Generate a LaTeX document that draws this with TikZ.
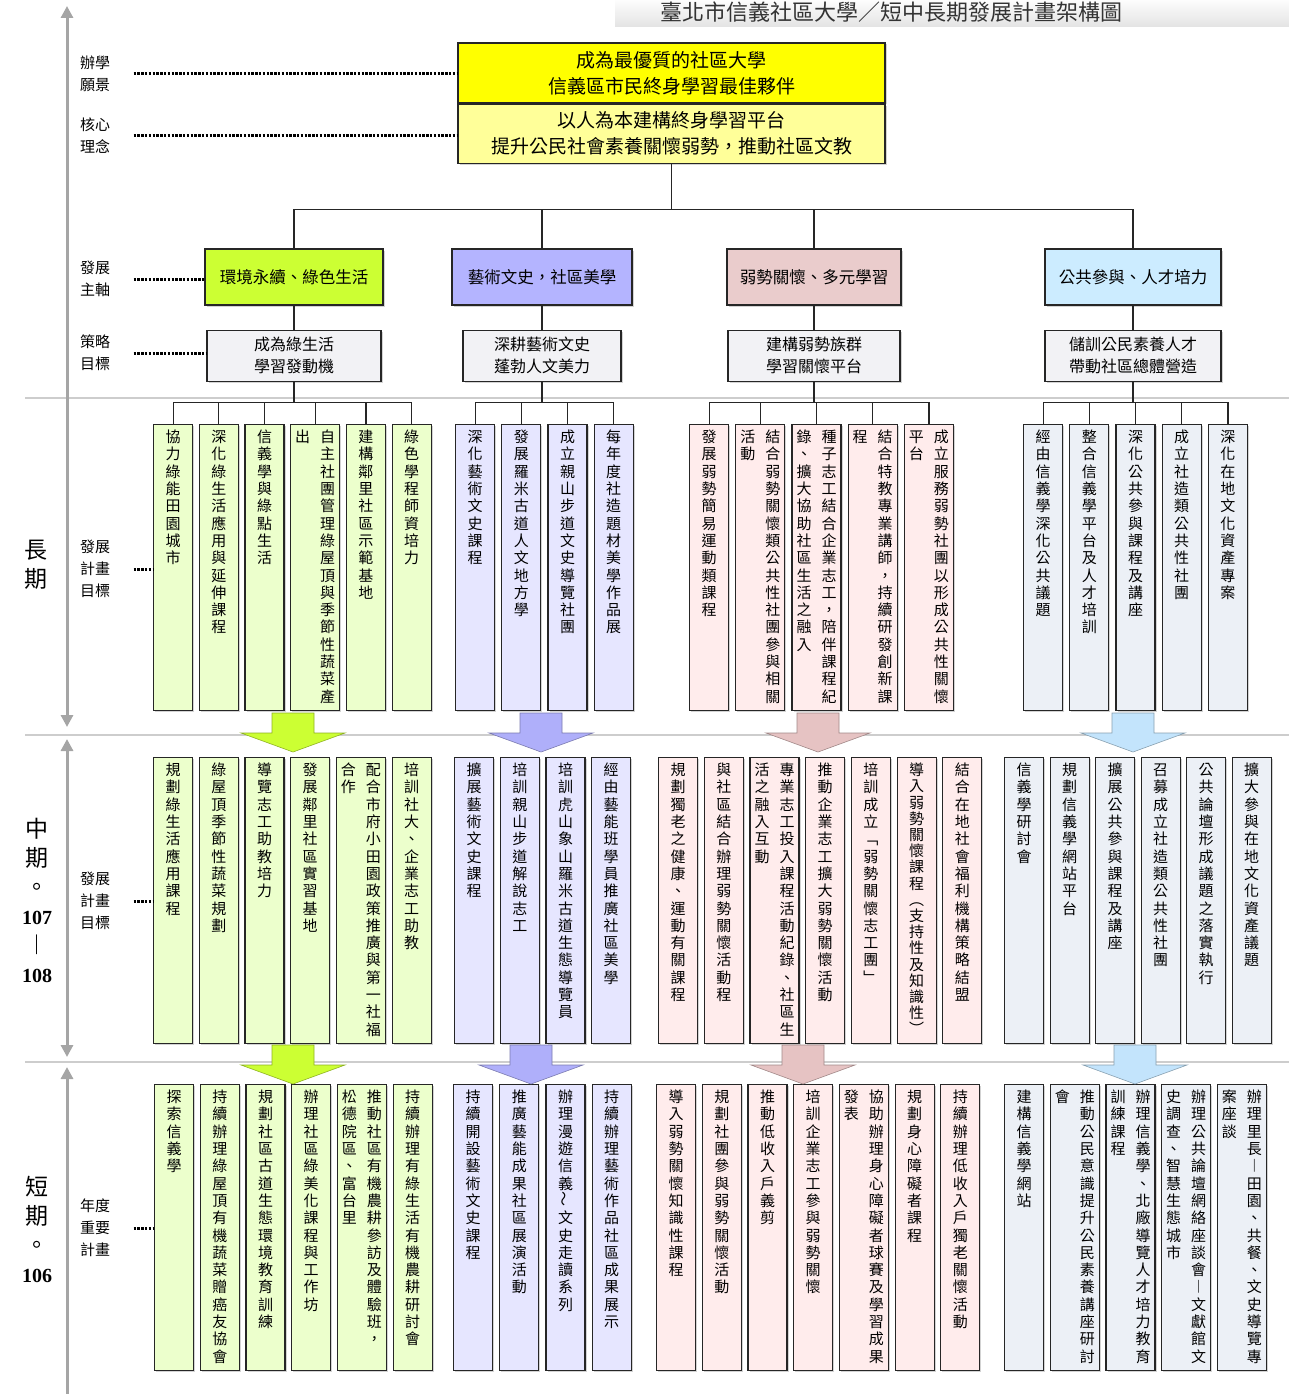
\documentclass[tikz,border=0pt]{standalone}
\usepackage{fontspec}
\usepackage{graphicx}
\setmainfont{Noto Sans CJK TC}
\newfontfamily\numfont{Liberation Serif}
\usetikzlibrary{arrows.meta, positioning, shadows}

\definecolor{axgreen}{RGB}{204,255,51}
\definecolor{axpurple}{RGB}{180,180,255}
\definecolor{axpink}{RGB}{234,204,204}
\definecolor{axblue}{RGB}{204,236,255}
\definecolor{colgreen}{RGB}{236,255,204}
\definecolor{colpurple}{RGB}{230,230,255}
\definecolor{colpink}{RGB}{255,236,236}
\definecolor{colblue}{RGB}{236,240,246}
\definecolor{stgray}{RGB}{242,242,245}
\definecolor{visyellow}{RGB}{255,255,0}
\definecolor{coreyellow}{RGB}{255,255,153}
\definecolor{axisgray}{RGB}{165,165,165}
\definecolor{sepgray}{RGB}{205,205,205}
\definecolor{arrpurple}{RGB}{175,175,250}
\definecolor{arrpink}{RGB}{230,195,195}
\definecolor{arrblue}{RGB}{195,228,252}

\newcommand\colfont{\fontsize{15}{17.3}\selectfont}
\newcommand\vtilde{\rotatebox{90}{～}}
% stack the characters of a text one below another
\def\vcharloop#1{\ifx\relax#1\else\hbox to 15pt{\hss\rule[-2pt]{0pt}{15pt}#1\hss}\expandafter\vcharloop\fi}
\newcommand\vchars[2][17.3pt]{\vtop{\baselineskip=#1\lineskiplimit=-50pt\lineskip=0pt\vcharloop#2\relax}}
\newcommand\vt[2][17.3pt]{\vbox to 276pt{\hbox{\vchars[#1]{#2}}\vfil}}
\newcommand\vtt[2]{\vbox to 276pt{\hbox{\vchars{#1}\hskip10pt\vchars{#2}}\vfil}}
\newcommand\blockarrow[4]{\path[fill=#3, draw=#4, line width=.6pt] (#1-21,#2) -- (#1+21,#2) -- (#1+21,#2+20) -- (#1+52,#2+20) -- (#1,#2+39) -- (#1-52,#2+20) -- (#1-21,#2+20) -- cycle;}

\tikzset{
  boxshadow/.style={drop shadow={shadow xshift=1.5pt, shadow yshift=-1.5pt, opacity=.35}},
  conn/.style={line width=1.2pt, draw=black!85},
  dotline/.style={line width=3pt, draw=black, dash pattern=on 2.4pt off 1.4pt},
  sepline/.style={line width=1.6pt, draw=sepgray},
  axisarrow/.style={line width=3pt, draw=axisgray, >={Triangle[width=12pt,length=12pt]}},
  topbox/.style={draw=black!85, line width=1.2pt, minimum width=427pt, minimum height=60pt, align=center, font=\fontsize{19}{26}\selectfont, boxshadow},
  axisbox/.style={draw=black!85, line width=1.2pt, minimum height=56pt, font=\fontsize{16.5}{20}\selectfont, boxshadow},
  stratbox/.style={draw=black!85, line width=1.2pt, fill=stgray, minimum height=51pt, align=center, font=\fontsize{16}{22}\selectfont, boxshadow},
  colbox/.style={draw=black!85, line width=1.2pt, inner xsep=0pt, inner ysep=5pt, minimum width=39pt, font=\colfont, boxshadow},
  gcol/.style={colbox, fill=colgreen},
  pcol/.style={colbox, fill=colpurple},
  rcol/.style={colbox, fill=colpink},
  bcol/.style={colbox, fill=colblue},
  wide/.style={minimum width=49pt},
  lab/.style={align=center, font=\fontsize{15}{22}\selectfont},
  biglab/.style={align=center, font=\fontsize{23}{29}\selectfont}
}

\begin{document}
\begin{tikzpicture}[x=1pt, y=-1pt]
\useasboundingbox (0,0) rectangle (1289,1394);

% title band
\shade[top color=white, bottom color=gray!22] (615,-2) rectangle (1289,27);
\node[font=\fontsize{22}{22}\selectfont, text=black!80] (title) at (891,12) {臺北市信義社區大學／短中長期發展計畫架構圖};

% separators and time axis
\draw[sepline] (25,398) -- (1289,398);
\draw[sepline] (25,735) -- (1289,735);
\draw[sepline] (25,1062) -- (1289,1062);
\draw[axisarrow, <->] (67,727) -- (67,6);
\draw[axisarrow, <->] (67,739) -- (67,1057);
\draw[axisarrow, <-] (67,1067) -- (67,1400);

% left labels
\node[biglab] (tlong) at (36,565) {長\\期};
\node[biglab] (tmid) at (37,900) {中\\期\\。\\{\numfont\bfseries\fontsize{20}{20}\selectfont 107}\\︱\\{\numfont\bfseries\fontsize{20}{20}\selectfont 108}};
\node[biglab] (tshort) at (37,1229) {短\\期\\。\\{\numfont\bfseries\fontsize{20}{20}\selectfont 106}};
\node[lab] (lbvis) at (95,74) {辦學\\願景};
\node[lab] (lbcore) at (95,136) {核心\\理念};
\node[lab] (lbaxis) at (95,279) {發展\\主軸};
\node[lab] (lbst) at (95,353) {策略\\目標};
\node[lab] (lblong) at (95,569) {發展\\計畫\\目標};
\node[lab] (lbmid) at (95,901) {發展\\計畫\\目標};
\node[lab] (lbshort) at (95,1228) {年度\\重要\\計畫};

% vision and core idea
\node[topbox, fill=visyellow] (vis) at (671.5,73) {成為最優質的社區大學\\信義區市民終身學習最佳夥伴};
\node[topbox, fill=coreyellow, minimum height=59pt, below=0pt of vis] (core) {以人為本建構終身學習平台\\提升公民社會素養關懷弱勢，推動社區文教};

% main axes
\node[axisbox, fill=axgreen, minimum width=178pt] (ax1) at (294,277) {環境永續、綠色生活};
\node[axisbox, fill=axpurple, minimum width=180pt] (ax2) at (542,277) {藝術文史，社區美學};
\node[axisbox, fill=axpink, minimum width=174pt] (ax3) at (814,277) {弱勢關懷、多元學習};
\node[axisbox, fill=axblue, minimum width=176pt] (ax4) at (1133,277) {公共參與、人才培力};

% strategy goals
\node[stratbox, minimum width=174pt, below=24pt of ax1] (st1) {成為綠生活\\學習發動機};
\node[stratbox, minimum width=158pt, below=24pt of ax2] (st2) {深耕藝術文史\\蓬勃人文美力};
\node[stratbox, minimum width=172pt, below=24pt of ax3] (st3) {建構弱勢族群\\學習關懷平台};
\node[stratbox, minimum width=176pt, below=24pt of ax4] (st4) {儲訓公民素養人才\\帶動社區總體營造};

% long term
\node[gcol, anchor=north west] (l11) at (153,424) {\vt{協力綠能田園城市}};
\node[gcol, right=5.5pt of l11] (l12) {\vt{深化綠生活應用與延伸課程}};
\node[gcol, right=5.5pt of l12] (l13) {\vt{信義學與綠點生活}};
\node[gcol, wide, right=5.5pt of l13] (l14) {\vtt{出}{自主社團管理綠屋頂與季節性蔬菜產}};
\node[gcol, right=5.5pt of l14] (l15) {\vt{建構鄰里社區示範基地}};
\node[gcol, right=5.5pt of l15] (l16) {\vt{綠色學程師資培力}};

\node[pcol, anchor=north west] (l21) at (455,424) {\vt{深化藝術文史課程}};
\node[pcol, right=6pt of l21] (l22) {\vt{發展羅米古道人文地方學}};
\node[pcol, right=6pt of l22] (l23) {\vt{成立親山步道文史導覽社團}};
\node[pcol, right=6pt of l23] (l24) {\vt{每年度社造題材美學作品展}};

\node[rcol, anchor=north west] (l31) at (689,424) {\vt{發展弱勢簡易運動類課程}};
\node[rcol, wide, right=6pt of l31] (l32) {\vtt{活動}{結合弱勢關懷類公共性社團參與相關}};
\node[rcol, wide, right=6pt of l32] (l33) {\vtt{錄、擴大協助社區生活之融入}{種子志工結合企業志工，陪伴課程紀}};
\node[rcol, wide, right=6pt of l33] (l34) {\vtt{程}{結合特教專業講師，持續研發創新課}};
\node[rcol, wide, right=6pt of l34] (l35) {\vtt{平台}{成立服務弱勢社團以形成公共性關懷}};

\node[bcol, anchor=north west] (l41) at (1023,424) {\vt{經由信義學深化公共議題}};
\node[bcol, right=6pt of l41] (l42) {\vt{整合信義學平台及人才培訓}};
\node[bcol, right=6pt of l42] (l43) {\vt{深化公共參與課程及講座}};
\node[bcol, right=6pt of l43] (l44) {\vt{成立社造類公共性社團}};
\node[bcol, right=6pt of l44] (l45) {\vt{深化在地文化資產專案}};

% middle term
\node[gcol, anchor=north west] (m11) at (153,757) {\vt{規劃綠生活應用課程}};
\node[gcol, right=5.5pt of m11] (m12) {\vt{綠屋頂季節性蔬菜規劃}};
\node[gcol, right=5.5pt of m12] (m13) {\vt{導覽志工助教培力}};
\node[gcol, right=5.5pt of m13] (m14) {\vt{發展鄰里社區實習基地}};
\node[gcol, wide, right=5.5pt of m14] (m15) {\vtt{合作}{配合市府小田園政策推廣與第一社福}};
\node[gcol, right=5.5pt of m15] (m16) {\vt{培訓社大、企業志工助教}};

\node[pcol, anchor=north west] (m21) at (454,757) {\vt{擴展藝術文史課程}};
\node[pcol, right=5.5pt of m21] (m22) {\vt{培訓親山步道解說志工}};
\node[pcol, right=5.5pt of m22] (m23) {\vt{培訓虎山象山羅米古道生態導覽員}};
\node[pcol, right=5.5pt of m23] (m24) {\vt{經由藝能班學員推廣社區美學}};

\node[rcol, anchor=north west] (m31) at (658,757) {\vt{規劃獨老之健康、運動有關課程}};
\node[rcol, right=5.5pt of m31] (m32) {\vt{與社區結合辦理弱勢關懷活動程}};
\node[rcol, wide, right=5.5pt of m32] (m33) {\vtt{活之融入互動}{專業志工投入課程活動紀錄、社區生}};
\node[rcol, right=5.5pt of m33] (m34) {\vt{推動企業志工擴大弱勢關懷活動}};
\node[rcol, right=5.5pt of m34] (m35) {\vt{培訓成立﹁弱勢關懷志工團﹂}};
\node[rcol, right=5.5pt of m35] (m36) {\vt[16.2pt]{導入弱勢關懷課程︵支持性及知識性︶}};
\node[rcol, right=5.5pt of m36] (m37) {\vt{結合在地社會福利機構策略結盟}};

\node[bcol, anchor=north west] (m41) at (1004,757) {\vt{信義學研討會}};
\node[bcol, right=5.3pt of m41] (m42) {\vt{規劃信義學網站平台}};
\node[bcol, right=5.3pt of m42] (m43) {\vt{擴展公共參與課程及講座}};
\node[bcol, right=5.3pt of m43] (m44) {\vt{召募成立社造類公共性社團}};
\node[bcol, right=5.3pt of m44] (m45) {\vt{公共論壇形成議題之落實執行}};
\node[bcol, right=5.3pt of m45] (m46) {\vt{擴大參與在地文化資產議題}};

% short term
\node[gcol, anchor=north west] (s11) at (154,1084) {\vt{探索信義學}};
\node[gcol, right=5.5pt of s11] (s12) {\vt{持續辦理綠屋頂有機蔬菜贈癌友協會}};
\node[gcol, right=5.5pt of s12] (s13) {\vt{規劃社區古道生態環境教育訓練}};
\node[gcol, right=5.5pt of s13] (s14) {\vt{辦理社區綠美化課程與工作坊}};
\node[gcol, wide, right=5.5pt of s14] (s15) {\vtt{松德院區、富台里}{推動社區有機農耕參訪及體驗班，}};
\node[gcol, right=5.5pt of s15] (s16) {\vt{持續辦理有綠生活有機農耕研討會}};

\node[pcol, anchor=north west] (s21) at (453,1084) {\vt{持續開設藝術文史課程}};
\node[pcol, right=6pt of s21] (s22) {\vt{推廣藝能成果社區展演活動}};
\node[pcol, right=6pt of s22] (s23) {\vt{辦理漫遊信義\vtilde 文史走讀系列}};
\node[pcol, right=6pt of s23] (s24) {\vt{持續辦理藝術作品社區成果展示}};

\node[rcol, anchor=north west] (s31) at (656,1084) {\vt{導入弱勢關懷知識性課程}};
\node[rcol, right=5.5pt of s31] (s32) {\vt{規劃社團參與弱勢關懷活動}};
\node[rcol, right=5.5pt of s32] (s33) {\vt{推動低收入戶義剪}};
\node[rcol, right=5.5pt of s33] (s34) {\vt{培訓企業志工參與弱勢關懷}};
\node[rcol, wide, right=5.5pt of s34] (s35) {\vtt{發表}{協助辦理身心障礙者球賽及學習成果}};
\node[rcol, right=5.5pt of s35] (s36) {\vt{規劃身心障礙者課程}};
\node[rcol, right=5.5pt of s36] (s37) {\vt{持續辦理低收入戶獨老關懷活動}};

\node[bcol, anchor=north west] (s41) at (1004,1084) {\vt{建構信義學網站}};
\node[bcol, wide, right=5.5pt of s41] (s42) {\vtt{會}{推動公民意識提升公民素養講座研討}};
\node[bcol, wide, right=5.5pt of s42] (s43) {\vtt{訓練課程}{辦理信義學、北廠導覽人才培力教育}};
\node[bcol, wide, right=5.5pt of s43] (s44) {\vtt{史調查、智慧生態城市}{辦理公共論壇網絡座談會︱文獻館文}};
\node[bcol, wide, right=5.5pt of s44] (s45) {\vtt{案座談}{辦理里長︱田園、共餐、文史導覽專}};

% dotted guides
\draw[dotline] ([xshift=20pt]lbvis.east) -- (lbvis.east -| vis.west);
\draw[dotline] ([xshift=20pt]lbcore.east) -- (lbcore.east -| core.west);
\draw[dotline] ([xshift=20pt]lbaxis.east) -- (lbaxis.east -| ax1.west);
\draw[dotline] ([xshift=20pt]lbst.east) -- (lbst.east -| st1.west);
\draw[dotline] ([xshift=20pt]lblong.east) -- (lblong.east -| l11.west);
\draw[dotline] ([xshift=20pt]lbmid.east) -- (lbmid.east -| m11.west);
\draw[dotline] ([xshift=20pt]lbshort.east) -- (lbshort.east -| s11.west);

% tree connectors
\coordinate (hub) at ([yshift=-46pt]core.south);
\draw[conn] (core) -- (hub);
\draw[conn] (ax1) |- (hub) -| (ax4);
\draw[conn] (ax2) -- (ax2 |- hub);
\draw[conn] (ax3) -- (ax3 |- hub);
\draw[conn] (ax1) -- (st1);
\draw[conn] (ax2) -- (st2);
\draw[conn] (ax3) -- (st3);
\draw[conn] (ax4) -- (st4);

\coordinate (bus1) at ([yshift=-21pt]st1.south);
\coordinate (bus2) at ([yshift=-21pt]st2.south);
\coordinate (bus3) at ([yshift=-21pt]st3.south);
\coordinate (bus4) at ([yshift=-21pt]st4.south);
\draw[conn] (st1) -- (bus1);
\draw[conn] (st2) -- (bus2);
\draw[conn] (st3) -- (bus3);
\draw[conn] (st4) -- (bus4);
\draw[conn] (l11.north) |- (bus1) -| (l16.north);
\draw[conn] (l21.north) |- (bus2) -| (l24.north);
\draw[conn] (l31.north) |- (bus3) -| (l35.north);
\draw[conn] (l41.north) |- (bus4) -| (l45.north);
\foreach \c in {l12,l13,l14,l15,l22,l23,l32,l33,l34,l42,l43,l44}
  \draw[conn] (\c.north) -- (\c.north |- bus1);

% block arrows between the terms
\blockarrow{293}{713}{axgreen}{axgreen!70!black}
\blockarrow{541}{713}{arrpurple}{arrpurple!70!black}
\blockarrow{818}{713}{arrpink}{arrpink!70!black}
\blockarrow{1133}{713}{arrblue}{arrblue!70!black}
\blockarrow{293}{1045}{axgreen}{axgreen!70!black}
\blockarrow{531}{1045}{arrpurple}{arrpurple!70!black}
\blockarrow{803}{1045}{arrpink}{arrpink!70!black}
\blockarrow{1135}{1045}{arrblue}{arrblue!70!black}
\end{tikzpicture}
\end{document}
